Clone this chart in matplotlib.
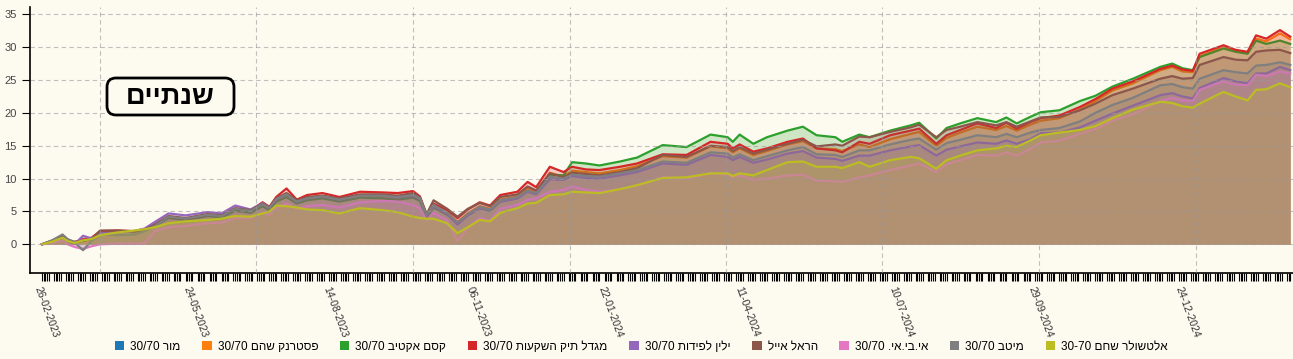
import matplotlib
matplotlib.use('Agg')
import matplotlib.pyplot as plt
import matplotlib.transforms as mtransforms
from matplotlib.patches import Patch, FancyBboxPatch
import pandas as pd

plt.rcParams['font.family'] = ['Liberation Sans', 'DejaVu Sans']

# sample dates
dates = [
    '2023-02-26', '2023-03-04', '2023-03-10', '2023-03-13', '2023-03-17', '2023-03-22', '2023-03-27', '2023-04-01', '2023-04-11', '2023-04-21',
    '2023-04-27', '2023-05-03', '2023-05-11', '2023-05-21', '2023-06-03', '2023-06-11', '2023-06-19', '2023-06-28', '2023-07-05', '2023-07-09',
    '2023-07-13', '2023-07-19', '2023-07-25', '2023-07-31', '2023-08-09', '2023-08-19', '2023-08-31', '2023-09-13', '2023-09-22', '2023-10-01',
    '2023-10-05', '2023-10-09', '2023-10-13', '2023-10-21', '2023-10-27', '2023-11-02', '2023-11-09', '2023-11-15', '2023-11-21', '2023-12-01',
    '2023-12-07', '2023-12-12', '2023-12-20', '2023-12-28', '2024-01-02', '2024-01-10', '2024-01-18', '2024-01-30', '2024-02-09', '2024-02-24',
    '2024-03-09', '2024-03-23', '2024-04-02', '2024-04-05', '2024-04-09', '2024-04-17', '2024-04-25', '2024-05-07', '2024-05-16', '2024-05-24',
    '2024-06-04', '2024-06-08', '2024-06-18', '2024-06-24', '2024-07-06', '2024-07-18', '2024-07-23', '2024-08-02', '2024-08-08', '2024-08-16',
    '2024-08-26', '2024-09-06', '2024-09-12', '2024-09-18', '2024-09-26', '2024-10-02', '2024-10-13', '2024-10-25', '2024-11-03', '2024-11-13',
    '2024-11-25', '2024-12-11', '2024-12-18', '2024-12-24', '2024-12-30', '2025-01-03', '2025-01-17', '2025-01-24', '2025-01-31', '2025-02-05',
    '2025-02-11', '2025-02-19', '2025-02-25',
]

mor = []  # no line visible for this fund
pesternak = [
    0.0, 0.4, 1.0, 0.6, 0.3, 0.7, 0.9, 1.9, 2.0, 2.0,
    2.2, 2.9, 4.1, 3.8, 4.4, 4.2, 5.3, 5.0, 6.0, 5.4,
    6.8, 7.5, 6.4, 6.9, 7.2, 6.7, 7.3, 7.2, 7.0, 7.3,
    6.8, 4.2, 5.9, 4.8, 3.4, 4.7, 5.8, 5.4, 6.8, 7.3,
    8.5, 8.0, 10.9, 10.3, 11.2, 11.0, 10.8, 11.3, 11.9, 13.4,
    13.2, 14.9, 14.6, 14.0, 14.6, 13.6, 14.2, 15.2, 15.7, 14.6,
    14.5, 14.2, 15.2, 14.8, 16.0, 16.8, 17.1, 15.0, 16.2, 17.0,
    17.9, 17.4, 18.0, 17.3, 18.2, 18.8, 19.2, 20.5, 21.8, 23.4,
    24.5, 26.5, 27.0, 26.3, 26.2, 28.6, 30.0, 29.4, 29.1, 31.3,
    30.9, 32.1, 31.2,
]
kesem = [
    0.0, 0.5, 0.9, 0.5, 0.2, 0.6, 0.8, 1.8, 1.9, 1.9,
    2.1, 2.8, 4.0, 3.7, 4.3, 4.1, 5.1, 4.8, 5.8, 5.2,
    6.5, 7.2, 6.2, 6.7, 7.0, 6.5, 7.1, 7.0, 6.8, 7.1,
    6.6, 4.1, 5.6, 4.5, 3.2, 4.4, 5.5, 5.1, 6.5, 7.0,
    8.1, 7.7, 10.6, 10.5, 12.5, 12.3, 12.0, 12.6, 13.2, 15.1,
    14.8, 16.7, 16.3, 15.6, 16.7, 15.3, 16.3, 17.3, 17.9, 16.6,
    16.3, 15.6, 16.7, 16.3, 17.3, 18.1, 18.5, 16.1, 17.7, 18.4,
    19.2, 18.6, 19.3, 18.4, 19.4, 20.1, 20.4, 21.8, 22.6, 24.0,
    25.2, 27.0, 27.5, 26.8, 26.5, 28.5, 29.8, 29.3, 29.0, 31.0,
    30.5, 31.0, 30.5,
]
migdal = [
    0.0, 0.5, 1.0, 0.6, 0.3, 0.8, 1.0, 2.0, 2.1, 2.0,
    2.3, 3.0, 4.2, 3.9, 4.5, 4.4, 5.4, 5.1, 6.4, 5.7,
    7.2, 8.5, 6.8, 7.5, 7.8, 7.2, 8.0, 7.9, 7.8, 8.1,
    7.3, 4.4, 6.2, 5.2, 4.0, 5.3, 6.4, 5.9, 7.5, 8.0,
    9.5, 8.7, 11.8, 11.0, 11.8, 11.4, 11.3, 11.8, 12.3, 13.7,
    13.6, 15.6, 15.3, 14.6, 15.2, 14.1, 14.6, 15.6, 16.1, 14.6,
    14.3, 14.0, 15.6, 15.3, 16.6, 17.3, 17.6, 15.3, 16.6, 17.4,
    18.4, 17.7, 18.5, 17.6, 18.6, 19.2, 19.6, 20.9, 22.1, 23.7,
    24.8, 26.7, 27.2, 26.6, 26.4, 29.0, 30.3, 29.6, 29.3, 31.8,
    31.3, 32.6, 31.6,
]
yalin = [
    0.0, 0.3, 0.8, 0.4, 0.0, 1.3, 0.9, 1.7, 1.8, 2.0,
    2.4, 3.4, 4.7, 4.4, 4.9, 4.7, 5.9, 5.3, 6.3, 5.6,
    6.8, 7.6, 6.5, 7.0, 7.3, 6.8, 7.5, 7.4, 7.1, 7.4,
    6.9, 4.3, 5.8, 4.6, 3.0, 4.4, 5.5, 5.2, 6.5, 7.0,
    8.0, 7.6, 9.9, 9.8, 10.4, 10.1, 10.0, 10.5, 11.0, 12.3,
    12.1, 13.6, 13.3, 12.8, 13.3, 12.4, 12.9, 13.8, 14.2, 13.2,
    13.0, 12.7, 13.5, 13.5, 14.3, 14.9, 15.1, 13.5, 14.4, 14.9,
    15.5, 15.3, 15.8, 15.3, 16.0, 16.9, 17.0, 17.8, 18.8, 19.9,
    21.1, 22.7, 23.0, 22.5, 22.2, 23.8, 25.3, 24.8, 24.5, 26.0,
    26.0, 27.0, 26.5,
]
harel = [
    0.0, 0.6, 1.3, 0.7, 0.4, 0.5, 0.8, 2.1, 2.1, 2.0,
    2.2, 3.0, 4.3, 4.0, 4.6, 4.4, 5.5, 5.2, 6.2, 5.6,
    7.0, 7.8, 6.7, 7.2, 7.4, 7.0, 7.6, 7.6, 7.4, 7.8,
    7.2, 4.6, 6.7, 5.4, 4.2, 5.4, 6.3, 5.8, 7.2, 7.6,
    8.8, 8.2, 10.8, 10.2, 10.9, 10.7, 10.5, 11.0, 11.6, 13.6,
    13.3, 15.0, 14.8, 14.2, 14.8, 13.8, 14.4, 15.3, 15.9, 14.9,
    15.2, 15.0, 16.4, 16.3, 17.1, 17.8, 18.2, 16.3, 17.4, 17.9,
    18.6, 18.1, 18.6, 17.9, 18.7, 19.3, 19.4, 20.4, 21.4, 22.7,
    23.7, 25.2, 25.6, 25.2, 25.3, 27.3, 28.5, 28.1, 28.0, 29.3,
    29.5, 29.6, 29.1,
]
ibi = [
    0.0, 0.2, 0.6, 0.0, -0.4, -0.7, -0.3, 0.0, 0.1, 0.1,
    0.2, 2.0, 2.6, 2.8, 3.2, 3.3, 4.0, 4.0, 4.8, 4.5,
    5.5, 6.2, 5.4, 5.8, 6.0, 5.6, 6.4, 6.6, 6.5, 6.0,
    5.5, 3.6, 4.8, 3.6, 0.5, 2.5, 4.0, 3.6, 5.4, 6.0,
    6.8, 7.0, 8.0, 8.3, 8.8, 8.3, 8.0, 8.4, 8.9, 10.2,
    10.0, 10.8, 10.6, 10.2, 10.5, 9.8, 10.0, 10.5, 10.6, 9.7,
    9.6, 9.5, 10.2, 10.5, 11.3, 12.0, 12.3, 11.0, 12.2, 12.8,
    13.6, 13.5, 14.0, 13.5, 14.5, 15.5, 15.8, 16.8, 17.6, 18.8,
    19.8, 21.8, 22.3, 21.9, 21.8, 23.5, 24.8, 24.3, 24.2, 25.8,
    25.6, 26.3, 26.0,
]
meitav = [
    0.0, 0.6, 1.5, 0.8, 0.3, -0.9, 0.5, 1.5, 1.4, 1.5,
    2.0, 2.8, 4.2, 3.9, 4.5, 4.3, 5.4, 5.1, 6.1, 5.5,
    6.9, 7.6, 6.5, 7.0, 7.3, 6.8, 7.4, 7.4, 7.2, 7.5,
    7.0, 4.4, 6.0, 4.8, 3.3, 4.6, 5.7, 5.3, 6.7, 7.2,
    8.2, 7.8, 10.3, 10.0, 10.6, 10.4, 10.3, 10.8, 11.3, 12.6,
    12.4, 14.0, 13.8, 13.2, 13.7, 12.8, 13.4, 14.3, 14.8, 13.7,
    13.6, 13.3, 14.3, 14.3, 15.2, 15.9, 16.1, 14.4, 15.4, 15.9,
    16.6, 16.3, 16.8, 16.3, 17.0, 17.4, 17.7, 18.7, 20.0, 21.2,
    22.3, 24.2, 24.4, 23.9, 23.7, 25.2, 26.5, 26.2, 26.0, 27.2,
    27.3, 27.7, 27.3,
]
altshuler = [
    0.0, 0.4, 1.0, 0.5, 0.2, 0.6, 0.8, 1.4, 1.8, 2.1,
    2.3, 2.6, 3.2, 3.5, 3.7, 3.9, 4.3, 4.2, 4.7, 5.0,
    5.9, 5.8, 5.6, 5.3, 5.2, 4.7, 5.5, 5.2, 4.9, 4.2,
    4.0, 3.9, 3.9, 3.2, 1.7, 2.6, 3.7, 3.5, 4.8, 5.5,
    6.2, 6.3, 7.5, 7.6, 8.0, 7.9, 7.8, 8.4, 9.0, 10.1,
    10.2, 10.8, 10.8, 10.4, 10.8, 10.5, 11.3, 12.5, 12.6, 11.8,
    11.8, 11.6, 12.5, 11.8, 12.8, 13.3, 13.1, 11.5, 12.8, 13.5,
    14.3, 14.6, 15.0, 14.8, 15.8, 16.6, 17.0, 17.4, 18.0, 19.2,
    20.5, 21.7, 21.5, 21.0, 20.8, 21.4, 23.2, 22.5, 21.9, 23.5,
    23.6, 24.5, 23.9,
]

names = ['מור 30/70', 'פסטרנק שהם 30/70', 'קסם אקטיב 30/70', 'מגדל תיק השקעות 30/70',
         'ילין לפידות 30/70', 'הראל אייל', 'אי.בי.אי. 30/70', 'מיטב 30/70', 'אלטשולר שחם 30-70']
series = [mor, pesternak, kesem, migdal, yalin, harel, ibi, meitav, altshuler]
colors = ['#1f77b4', '#ff7f0e', '#2ca02c', '#d62728', '#9467bd',
          '#8c564b', '#e377c2', '#7f7f7f', '#bcbd22']

tick_labels = ['26-02-2023', '24-05-2023', '14-08-2023', '06-11-2023', '22-01-2024',
               '11-04-2024', '10-07-2024', '29-09-2024', '24-12-2024']
quarter_lines = ['2023-04-01', '2023-07-01', '2023-10-01', '2024-01-01',
                 '2024-04-01', '2024-07-01', '2024-10-01', '2025-01-01']
title = 'שנתיים'


def visual(s):
    # matplotlib has no bidi: put the Hebrew in visual order
    parts = s.rsplit(' ', 1)
    if len(parts) == 2 and parts[1][0].isdigit():
        return parts[1] + ' ' + parts[0][::-1]
    return s[::-1]


W, H = 1293, 359
bg = '#fdfaf0'
fig = plt.figure(figsize=(W / 100, H / 100), dpi=100, facecolor=bg)
ax = fig.add_axes([30 / W, 1 - 272.7 / H, 1 - 30 / W, 265.4 / H])
ax.set_facecolor(bg)

x = pd.to_datetime(dates)
for vals, c in zip(series, colors):
    if not vals:
        continue
    ax.fill_between(x, 0, vals, color=c, alpha=0.22, linewidth=0, zorder=2)
    ax.plot(x, vals, color=c, linewidth=1.6, zorder=2)

start = pd.Timestamp(dates[0])
ax.set_xlim(start - pd.Timedelta(days=7), start + pd.Timedelta(days=731.6))
ax.set_ylim(-4.32, 36.07)

# one small tick per trading day (Sun-Thu), labels every 60 days
trading = pd.bdate_range(dates[0], dates[-1], freq='C', weekmask='Sun Mon Tue Wed Thu')
ax.set_xticks(trading, minor=True)
ax.set_xticks(pd.to_datetime(tick_labels, format='%d-%m-%Y'))
ax.set_xticklabels(tick_labels, rotation=-70, ha='left', va='top',
                   rotation_mode='anchor', fontsize=7.5, color='#333333')
shift = mtransforms.ScaledTranslation(4 / 100, 0, fig.dpi_scale_trans)
for lab in ax.get_xticklabels():
    lab.set_transform(lab.get_transform() + shift)
ax.tick_params(axis='x', which='both', length=6, width=0.8, color='black', pad=3)

ax.set_yticks(range(0, 40, 5))
ax.tick_params(axis='y', length=6, width=0.8, labelsize=8, labelcolor='#444444')

ax.grid(axis='y', linestyle=(0, (4, 3)), color='#999999', linewidth=0.8, alpha=0.6, zorder=3)
for q in quarter_lines:
    ax.axvline(pd.Timestamp(q), linestyle=(0, (4, 3)), color='#999999',
               linewidth=0.8, alpha=0.6, zorder=3)
ax.set_axisbelow(False)

for s in ['top', 'right']:
    ax.spines[s].set_visible(False)
for s in ['left', 'bottom']:
    ax.spines[s].set_linewidth(1.2)

# rounded title box, sized in pixels
box = FancyBboxPatch((107, H - 115), 127, 37, boxstyle='round,pad=0,rounding_size=9',
                     transform=mtransforms.IdentityTransform(),
                     fc=bg, ec='black', lw=2, zorder=5)
fig.add_artist(box)
fig.text(170.5 / W, 1 - 97 / H, visual(title), ha='center', va='center',
         fontsize=19.5, fontweight='bold', zorder=6)

handles = [Patch(facecolor=c, edgecolor='none') for c in colors]
fig.legend(handles, [visual(n) for n in names], loc='center',
           bbox_to_anchor=(0.496, 1 - 347 / H), ncol=9, frameon=False,
           fontsize=8.5, handlelength=0.8, handleheight=0.8,
           handletextpad=0.5, columnspacing=1.85)

fig.savefig('out.png', dpi=100, facecolor=bg)
